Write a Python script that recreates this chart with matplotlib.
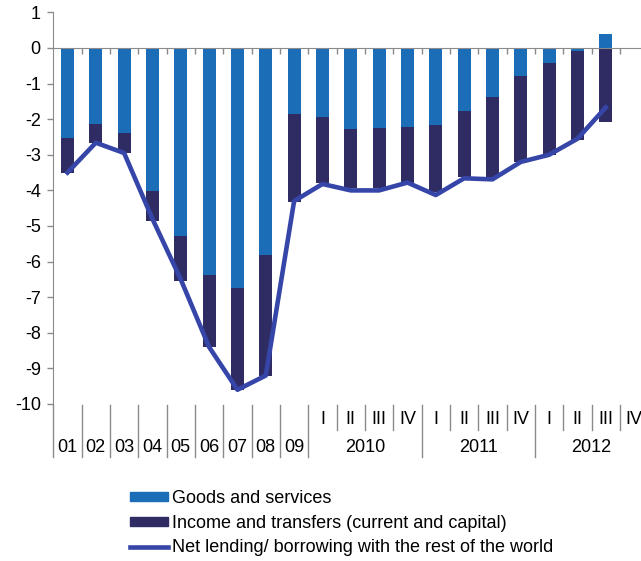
import numpy as np
import matplotlib
matplotlib.use("Agg")
import matplotlib.pyplot as plt
from matplotlib.patches import Patch
from matplotlib.lines import Line2D

plt.rcParams['font.family'] = ['Liberation Sans', 'DejaVu Sans']
plt.rcParams['axes.unicode_minus'] = False

# x axis: 2001-2009 yearly, then quarters 2010-2012
months = ["01", "02", "03", "04", "05", "06", "07", "08", "09"]
quarters = ["I", "II", "III", "IV"]
years = ["2010", "2011", "2012"]

goods = [-2.54, -2.13, -2.40, -4.01, -5.27, -6.38, -6.73, -5.81, -1.86,
         -1.93, -2.28, -2.24, -2.21, -2.16, -1.77, -1.37, -0.79, -0.43, -0.08, 0.38]
income = [-0.96, -0.53, -0.54, -0.84, -1.27, -2.01, -2.88, -3.39, -2.46,
          -1.87, -1.66, -1.70, -1.59, -1.88, -1.84, -2.24, -2.40, -2.58, -2.50, -2.07]
net = [-3.50, -2.66, -2.95, -4.80, -6.50, -8.40, -9.60, -9.20, -4.30,
       -3.82, -4.00, -4.00, -3.78, -4.13, -3.66, -3.69, -3.20, -3.00, -2.55, -1.67]

c_goods = '#1a6db6'
c_income = '#2e2c62'
c_line = '#3545a8'
c_grid = '#8a8a8a'
fs = 13

n_slots = len(months) + len(years) * len(quarters)
x = np.arange(len(goods))
goods = np.array(goods)
income = np.array(income)
bottom = np.where(goods < 0, goods, 0)

fig = plt.figure(figsize=(6.41, 5.61), dpi=100)
ax = fig.add_axes([53.3 / 641, 157 / 561, (n_slots * 28.33) / 641, 391.6 / 561])

ax.bar(x, goods, width=0.46, color=c_goods, zorder=2)
ax.bar(x, income, width=0.46, bottom=bottom, color=c_income, zorder=2)
ax.plot(x, net, color=c_line, lw=3.3, zorder=3)

ax.set_xlim(-0.5, n_slots - 0.5)
ax.set_ylim(-10, 1)
ax.set_yticks(range(-10, 2))
ax.tick_params(axis='y', direction='out', length=4, width=1, color=c_grid,
               labelsize=fs, pad=5)

for s in ['top', 'right']:
    ax.spines[s].set_visible(False)
ax.spines['left'].set_color(c_grid)
ax.spines['bottom'].set_position(('data', 0))
ax.spines['bottom'].set_color(c_grid)
ax.set_xticks(np.arange(n_slots) + 0.5)
ax.tick_params(axis='x', direction='out', length=4, width=1, color=c_grid,
               labelbottom=False)

# category labels and separators below the plot
tr = ax.get_xaxis_transform()
h = 391.6
top_y = -1 / h
short_y = -26 / h
long_y = -53 / h
q_y = -16 / h
lab_y = -43 / h

bounds = np.arange(-0.5, n_slots - 0.5)
nm = len(months)
for b in bounds:
    k = b - nm + 0.5
    if b < nm or k % 4 == 0:
        ax.plot([b, b], [top_y, long_y], transform=tr, color=c_grid, lw=1, clip_on=False)
    else:
        ax.plot([b, b], [top_y, short_y], transform=tr, color=c_grid, lw=1, clip_on=False)

for i, m in enumerate(months):
    ax.text(i, lab_y, m, transform=tr, ha='center', va='center', fontsize=fs)
for j, yr in enumerate(years):
    for q, ql in enumerate(quarters):
        ax.text(nm + j * 4 + q, q_y, ql, transform=tr, ha='center', va='center', fontsize=fs)
    ax.text(nm + j * 4 + 1.5, lab_y, yr, transform=tr, ha='center', va='center', fontsize=fs)

handles = [Patch(color=c_goods), Patch(color=c_income), Line2D([], [], color=c_line, lw=3.3)]
labels = ["Goods and services", "Income and transfers (current and capital)",
          "Net lending/ borrowing with the rest of the world"]
fig.legend(handles, labels, loc='upper left', bbox_to_anchor=(130 / 641, 1 - 490 / 561),
           frameon=False, fontsize=fs, handlelength=2.1, handleheight=0.4,
           handletextpad=0.2, labelspacing=0.42, borderpad=0, borderaxespad=0)

fig.savefig("out.png", dpi=100)
